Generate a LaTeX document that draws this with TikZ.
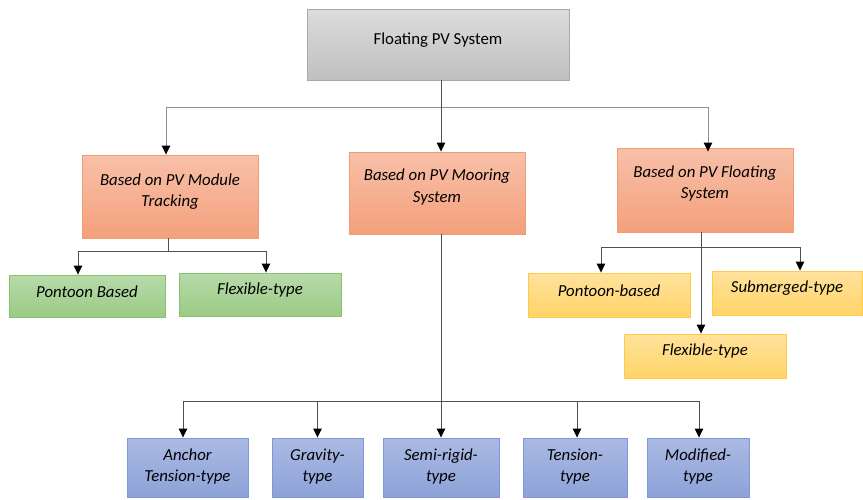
\documentclass[tikz,border=0pt]{standalone}
\usepackage{fontspec}
\setmainfont{Carlito}
\usetikzlibrary{arrows.meta}

\definecolor{grayTop}{HTML}{DCDCDC}
\definecolor{grayBot}{HTML}{C0C0C0}
\definecolor{grayEdge}{HTML}{A8A8A8}
\definecolor{orTop}{HTML}{F8C0A9}
\definecolor{orBot}{HTML}{F4A07C}
\definecolor{orEdge}{HTML}{F29C72}
\definecolor{grTop}{HTML}{B8DAAA}
\definecolor{grBot}{HTML}{9BCB84}
\definecolor{grEdge}{HTML}{86C26C}
\definecolor{yeTop}{HTML}{FFE29C}
\definecolor{yeBot}{HTML}{FFD468}
\definecolor{yeEdge}{HTML}{FFCA48}
\definecolor{blTop}{HTML}{ABBAE3}
\definecolor{blBot}{HTML}{8DA2D8}
\definecolor{blEdge}{HTML}{7C98DA}
\definecolor{wire}{HTML}{505050}
\definecolor{wireLight}{HTML}{909090}

\tikzset{
  x=1pt, y=-1pt,
  boxbase/.style={draw, line width=0.9pt, inner sep=0pt},
  graybox/.style={boxbase, draw=grayEdge, top color=grayTop, bottom color=grayBot},
  orangebox/.style={boxbase, draw=orEdge, top color=orTop, bottom color=orBot},
  greenbox/.style={boxbase, draw=grEdge, top color=grTop, bottom color=grBot},
  yellowbox/.style={boxbase, draw=yeEdge, top color=yeTop, bottom color=yeBot},
  bluebox/.style={boxbase, draw=blEdge, top color=blTop, bottom color=blBot},
  lbl/.style={align=center, inner sep=0pt, text=black,
    font=\fontsize{16.8}{21.5}\selectfont\itshape},
  toplbl/.style={align=center, inner sep=0pt, text=black,
    font=\fontsize{16.8}{21.5}\selectfont},
  conn/.style={draw=wire, line width=0.9pt},
  connlight/.style={draw=wireLight, line width=1pt},
  arr/.style={-{Triangle[width=8.5pt,length=9pt,color=black]}},
}

\begin{document}
\begin{tikzpicture}
\useasboundingbox (0,0) rectangle (863,499);

% root
\node[graybox, minimum width=262pt, minimum height=71pt] (root) at (438,44.5) {};
\node[toplbl] (rootT) at (438,40) {Floating PV System};

% second level
\node[orangebox, minimum width=176pt, minimum height=83pt] (track) at (170,196.5) {};
\node[lbl] (trackT) at (170,191.5) {Based on PV Module\\Tracking};
\node[orangebox, minimum width=176pt, minimum height=82pt] (moor) at (437,193) {};
\node[lbl] (moorT) at (437,187) {Based on PV Mooring\\System};
\node[orangebox, minimum width=176pt, minimum height=84pt] (float) at (705,190) {};
\node[lbl] (floatT) at (705,183.5) {Based on PV Floating\\System};

% tracking branch
\node[greenbox, minimum width=156pt, minimum height=42pt] (pont) at (87,296) {};
\node[lbl] (pontT) at (87,292) {Pontoon Based};
\node[greenbox, minimum width=162pt, minimum height=43pt] (flex) at (260,294.5) {};
\node[lbl] (flexT) at (260,290) {Flexible-type};

% floating branch
\node[yellowbox, minimum width=162pt, minimum height=44pt] (fpont) at (609,295) {};
\node[lbl] (fpontT) at (609,291) {Pontoon-based};
\node[yellowbox, minimum width=150pt, minimum height=44pt] (fsub) at (787,293) {};
\node[lbl] (fsubT) at (787,288) {Submerged-type};
\node[yellowbox, minimum width=162pt, minimum height=44pt] (fflex) at (705,356) {};
\node[lbl] (fflexT) at (705,351.5) {Flexible-type};

% mooring branch
\node[bluebox, minimum width=121pt, minimum height=59pt] (anch) at (187.5,467.5) {};
\node[lbl] (anchT) at (187.5,466.5) {Anchor\\Tension-type};
\node[bluebox, minimum width=91pt, minimum height=59pt] (grav) at (317.5,467.5) {};
\node[lbl] (gravT) at (317.5,466.5) {Gravity-\\type};
\node[bluebox, minimum width=116pt, minimum height=59pt] (semi) at (441,467.5) {};
\node[lbl] (semiT) at (441,466.5) {Semi-rigid-\\type};
\node[bluebox, minimum width=104pt, minimum height=59pt] (tens) at (575,467.5) {};
\node[lbl] (tensT) at (575,466.5) {Tension-\\type};
\node[bluebox, minimum width=102pt, minimum height=59pt] (modi) at (698,467.5) {};
\node[lbl] (modiT) at (698,466.5) {Modified-\\type};

% junction points
\coordinate (j0) at (441,107);
\coordinate (j1) at (168,251);
\coordinate (j2) at (701,247);
\coordinate (j3) at (441,401);

% root to second level
\draw[conn] (j0 |- root.south) -- (j0);
\draw[connlight] ([xshift=-4pt]track.north |- j0) -- ([xshift=3pt]float.north |- j0);
\draw[conn, arr] (j0) -- (j0 |- moor.north);
\draw[connlight, arr] ([xshift=-4pt]track.north |- j0) -- ([xshift=-4pt]track.north);
\draw[connlight, arr] ([xshift=3pt]float.north |- j0) -- ([xshift=3pt,yshift=-4pt]float.north);

% tracking connectors
\draw[conn] (j1 |- track.south) -- (j1);
\draw[conn, arr] (j1) -| ([xshift=-9pt]pont.north);
\draw[conn, arr] (j1) -| ([xshift=6pt]flex.north);

% floating connectors
\draw[conn] (j2 |- float.south) -- (j2);
\draw[conn, arr] (j2) -| ([xshift=-8pt]fpont.north);
\draw[conn, arr] (j2) -| ([xshift=13pt]fsub.north);
\draw[conn, arr] (j2) -- (j2 |- fflex.north);

% mooring connectors
\draw[conn] (j3 |- moor.south) -- (j3);
\draw[conn, arr] (j3) -| ([xshift=-4.5pt]anch.north);
\draw[conn, arr] (j3) -| (grav.north);
\draw[conn, arr] (j3) -- (j3 |- semi.north);
\draw[conn, arr] (j3) -| ([xshift=2pt]tens.north);
\draw[conn, arr] (j3) -| ([xshift=1pt]modi.north);
\end{tikzpicture}
\end{document}
